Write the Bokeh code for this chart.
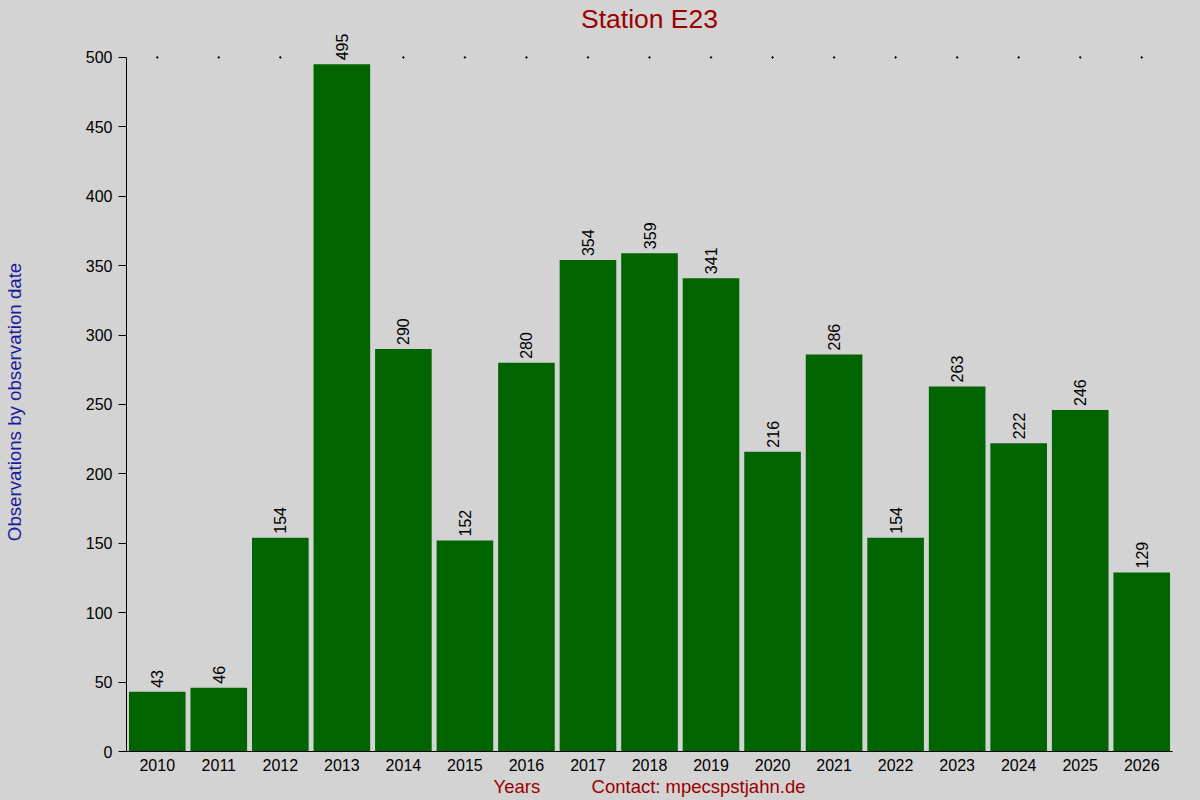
import math
from bokeh.plotting import figure
from bokeh.models import ColumnDataSource, Label, Range1d, FixedTicker
from bokeh.embed import file_html
from bokeh.resources import INLINE

years = ["2010", "2011", "2012", "2013", "2014", "2015", "2016", "2017", "2018",
         "2019", "2020", "2021", "2022", "2023", "2024", "2025", "2026"]
counts = [43, 46, 154, 495, 290, 152, 280, 354, 359, 341, 216, 286, 154, 263, 222, 246, 129]
y_ticks = [0, 50, 100, 150, 200, 250, 300, 350, 400, 450, 500]
y_max = 500
title_text = "Station E23"

BG = "#d3d3d3"
FONT = "Liberation Sans"

# frame runs to the top of the canvas so that labels above the 500 line are not clipped;
# the axis line itself is bounded to 0..500
y_top = 541

src = ColumnDataSource(dict(year=years, count=counts, top=[y_max] * len(years)))

p = figure(x_range=years, y_range=Range1d(0, y_top), width=1200, height=800,
           output_backend="svg", toolbar_location=None,
           min_border_left=126, min_border_right=28, min_border_top=0, min_border_bottom=49)

p.background_fill_color = BG
p.border_fill_color = BG
p.outline_line_color = None
p.xgrid.grid_line_color = None
p.ygrid.grid_line_color = None

p.vbar(x="year", top="count", width=0.92, source=src, fill_color="#006400", line_color=None)
p.scatter(x="year", y="top", source=src, size=1.5, color="black")

for i, (yr, c) in enumerate(zip(years, counts)):
    p.add_layout(Label(x=i + 0.5, y=c, text=str(c), angle=math.pi / 2,
                       text_align="left", text_baseline="middle", y_offset=4,
                       text_font=FONT, text_font_size="16px", text_color="black"))

# title
p.add_layout(Label(x=len(years) / 2, y=y_top, y_offset=-18, text=title_text,
                   text_align="center", text_baseline="middle",
                   text_font=FONT, text_font_size="26.5px", text_color="#990000"))

# y axis
p.yaxis.ticker = FixedTicker(ticks=y_ticks)
p.yaxis.bounds = (0, y_max)
p.yaxis.minor_tick_line_color = None
p.yaxis.major_tick_in = 0
p.yaxis.major_tick_out = 8
p.yaxis.major_label_standoff = 6
p.yaxis.major_label_text_font = FONT
p.yaxis.major_label_text_font_size = "16px"
p.yaxis.major_label_text_color = "black"
p.yaxis.axis_line_color = "black"
# trailing no-break spaces centre the label on the 0..500 part of the frame
p.yaxis.axis_label = "Observations by observation date" + "\u00a0" * 10
p.yaxis.axis_label_text_font = FONT
p.yaxis.axis_label_text_font_size = "18.7px"
p.yaxis.axis_label_text_font_style = "normal"
p.yaxis.axis_label_text_color = "#1a1a9a"
p.yaxis.axis_label_standoff = 58

# x axis
p.xaxis.major_tick_line_color = None
p.xaxis.major_tick_out = 0
p.xaxis.major_tick_in = 0
p.xaxis.major_label_standoff = 7
p.xaxis.major_label_text_font = FONT
p.xaxis.major_label_text_font_size = "16px"
p.xaxis.major_label_text_color = "black"
p.xaxis.axis_line_color = "black"
p.xaxis.axis_label = "Years" + "\u00a0" * 10 + "Contact: mpecspstjahn.de"
p.xaxis.axis_label_text_font = FONT
p.xaxis.axis_label_text_font_size = "18.5px"
p.xaxis.axis_label_text_font_style = "normal"
p.xaxis.axis_label_text_color = "#990000"
p.xaxis.axis_label_standoff = 2

html = file_html(p, INLINE)
html = html.replace("</head>",
                    "<style>html, body { margin: 0; padding: 0; background: %s; overflow: hidden; }</style></head>" % BG, 1)
open("out.html", "w").write(html)
